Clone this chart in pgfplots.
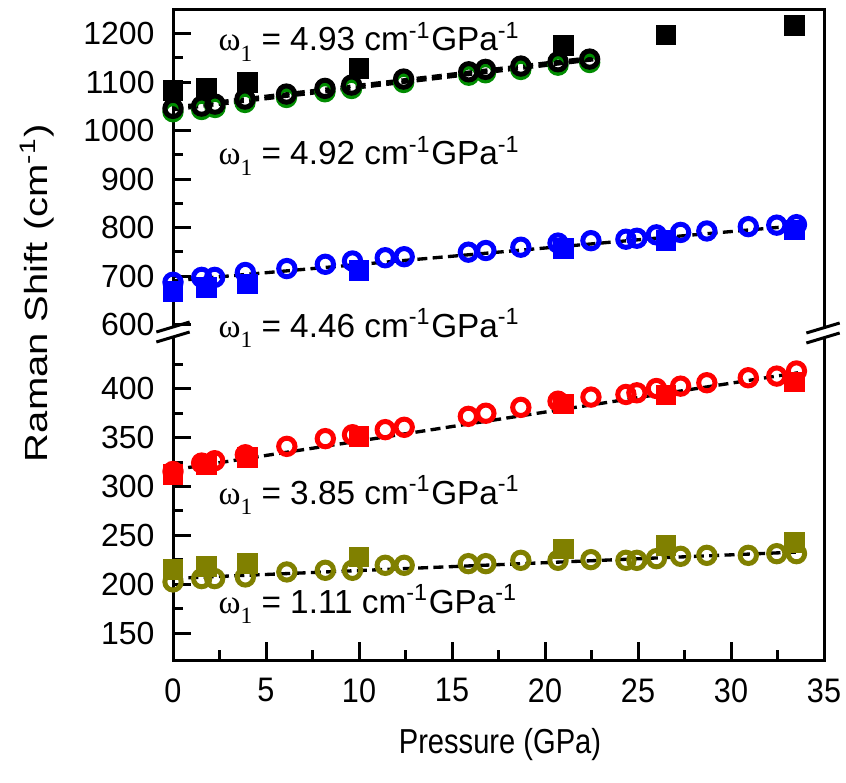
\documentclass[border=0pt]{standalone}
\usepackage{fontspec}
\setmainfont{Liberation Sans}
\newfontfamily\tnr{Liberation Serif}
\usepackage{graphicx}
\usepackage{pgfplots}
\pgfplotsset{compat=1.18}

\definecolor{olivec}{RGB}{128,128,0}
\definecolor{greenc}{RGB}{0,140,0}

% 1 px of the reference = 0.3pt
\newcommand{\pxat}[2]{(#1*0.3pt,-#2*0.3pt)}
\newcommand{\brk}[2]{%
  \draw[line width=0.9pt] (#1*0.3pt-5pt,-#2*0.3pt-1.5pt) -- ++(10pt,3pt);}
\newcommand{\om}[1]{{\tnr ω}\raisebox{-0.6ex}{\tnr\fontsize{7}{7}\selectfont 1}\ =\ #1 cm\textsuperscript{-1}GPa\textsuperscript{-1}}

\pgfplotsset{
  brk/.style={scale only axis, width=195.3pt, xmin=0, xmax=35,
    axis line style={draw=none}, tick align=inside,
    ytick pos=left, xtick pos=bottom,
    major tick length=5.4pt, minor tick length=3pt,
    tick style={black, line width=0.9pt},
    clip=false,
    /pgf/number format/assume math mode=true,
    /pgf/number format/1000 sep={},
    yticklabel style={font=\fontsize{9.6}{10}\selectfont, xshift=-2pt},
    xticklabel style={font=\fontsize{10.2}{11}\selectfont, yshift=-2pt},
    xticklabel={\scalebox{0.9}[1]{\pgfmathprintnumber{\tick}}},
  },
  sq/.style={only marks, mark=square*, mark size=2.9pt},
  ci/.style={only marks, mark=o, mark size=2.45pt, mark options={line width=1.5pt}},
  fitl/.style={black, dash pattern=on 3pt off 1.6pt, line width=1.0pt, mark=none},
}

\begin{document}
\begin{tikzpicture}
\path[use as bounding box] (0,0) rectangle (253.8pt,-234.9pt);

% lower part
\begin{axis}[brk, at={(51.9pt,-198pt)}, anchor=south west, height=96.9pt,
  ymin=122.5, ymax=453,
  xtick={0,5,...,35}, minor xtick={2.5,7.5,...,32.5},
  ytick={150,200,...,400}, minor ytick={175,225,...,425}]
\draw[line width=0.9pt] (rel axis cs:0,1) -- (rel axis cs:0,0) -- (rel axis cs:1,0) -- (rel axis cs:1,1);
\addplot[sq, red] table {
x y
0 312
1.8 322
4 329.5
10 351.5
21 384.5
26.5 393.5
33.4 407
};
\addplot[sq, olivec] table {
x y
0 215
1.8 218
4 221
10 228
21 236
26.5 240
33.4 243
};
\addplot[ci, red] table {
x y
0 315.4
1.54 324
2.24 326.4
3.89 332.5
6.12 341.1
8.19 349
9.65 353
11.41 358.2
12.43 360.6
15.88 371.8
16.82 375
18.7 381
20.7 387.3
22.47 391.5
24.35 394.2
24.94 395.9
25.99 400.3
27.29 402.7
28.7 406.2
30.93 411.3
32.46 413
33.52 418.2
};
\addplot[ci, olivec] table {
x y
0 202.4
1.54 205.8
2.24 205.8
3.89 207.5
6.12 212.6
8.19 214.3
9.65 214.3
11.41 219.4
12.43 219.4
15.88 221.1
16.82 221.1
18.7 224.5
20.7 224.5
22.47 225.2
24.35 224.5
24.94 224.5
25.99 226.2
27.29 228.6
28.7 229.6
30.93 229.6
32.46 231.3
33.52 231.3
};
\addplot[fitl] coordinates {(0,317) (33.6,416.4)};
\addplot[fitl] coordinates {(0,206) (33.6,233)};
\end{axis}

% upper part
\begin{axis}[brk, at={(51.9pt,-98.1pt)}, anchor=south west, height=95.3pt,
  ymin=595, ymax=1250, xtick=\empty,
  ytick={600,700,...,1200}, minor ytick={650,750,...,1150}]
\draw[line width=0.9pt] (rel axis cs:0,0) -- (rel axis cs:0,1) -- (rel axis cs:1,1) -- (rel axis cs:1,0);
\addplot[sq, blue] table {
x y
0 668
1.8 676
4 684
10 712
21 757
26.5 774
33.4 795
};
\addplot[sq, black] table {
x y
0 1082
1.8 1088
4 1099
10 1128
21 1176
26.5 1197
33.4 1217
};
\addplot[ci, blue] table {
x y
0 687.2
1.54 697.3
2.24 697.3
3.89 707.4
6.12 715.5
8.19 724.3
9.65 731.1
11.41 737.8
12.43 739.9
15.88 749.3
16.82 752.7
18.7 759.5
20.7 768
22.47 773
24.35 776
24.94 778
25.99 785
27.29 790
28.7 793
30.93 802
32.46 805
33.52 806
};
\addplot[ci, greenc] table {
x y
0 1038.8
1.54 1043.5
2.26 1047.6
3.87 1058
6.1 1068.3
8.17 1080
9.6 1086.8
12.4 1099.2
15.9 1114.2
16.8 1119.2
18.7 1126
20.7 1134.9
22.4 1140.4
};
\addplot[ci, black] table {
x y
0 1045.8
1.54 1050.5
2.26 1054.6
3.87 1065
6.1 1075.3
8.17 1087
9.6 1093.8
12.4 1106.2
15.9 1121.2
16.8 1126.2
18.7 1133
20.7 1141.9
22.4 1147.4
};
\addplot[fitl] coordinates {(0,690) (33.6,804)};
\addplot[fitl] coordinates {(0,1048) (22.6,1151)};
\addplot[fitl] coordinates {(0,1043) (22.6,1146)};
\end{axis}

% axis breaks
\brk{173}{327}
\brk{173}{337}
\brk{823}{328}
\brk{823}{338}

% fit annotations
\begin{scope}[every node/.style={anchor=base west, inner sep=0pt, font=\fontsize{10}{12}\selectfont}]
\node at \pxat{218}{51} {\om{4.93}};
\node at \pxat{218}{165} {\om{4.92}};
\node at \pxat{218}{337} {\om{4.46}};
\node at \pxat{218}{504} {\om{3.85}};
\node at \pxat{218}{613} {\om{1.11}};
\end{scope}

% axis titles
\node[rotate=90, font=\fontsize{9.6}{10}\selectfont] at \pxat{37}{293} {\scalebox{1.25}[1]{Raman Shift (cm\textsuperscript{-1})}};
\node[font=\fontsize{10.4}{11}\selectfont] at \pxat{500}{745} {\scalebox{0.84}[1]{Pressure (GPa)}};
\end{tikzpicture}
\end{document}
